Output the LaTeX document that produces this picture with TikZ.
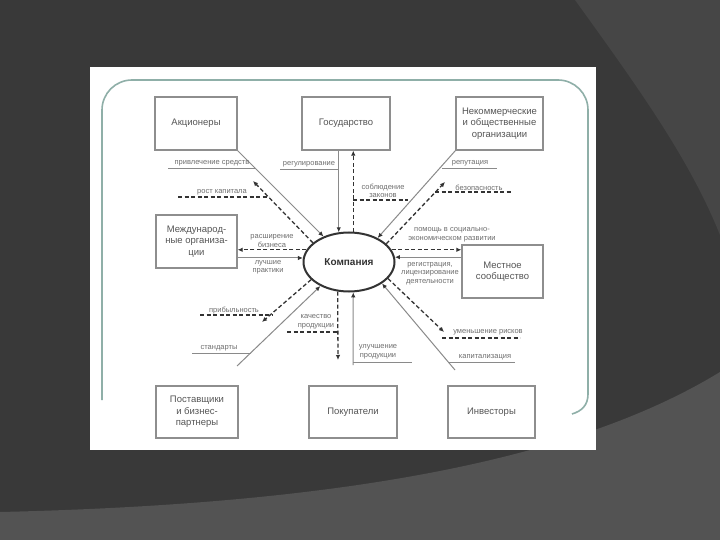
\documentclass[tikz,border=0pt]{standalone}
\usepackage{fontspec}
\setmainfont{Liberation Sans}
\usetikzlibrary{arrows.meta,shapes.geometric}
\definecolor{bgdark}{HTML}{393939}
\definecolor{bgband}{HTML}{464646}
\definecolor{bglow}{HTML}{535353}
\definecolor{framec}{HTML}{8FAFA8}
\definecolor{boxline}{HTML}{8E8E8E}
\definecolor{boxtext}{HTML}{555555}
\definecolor{labtext}{HTML}{6E6E6E}
\definecolor{dline}{HTML}{333333}
\definecolor{sline}{HTML}{8A8A8A}
\begin{document}
\begin{tikzpicture}[x=1pt,y=-1pt,
  party/.style={draw=boxline,line width=1.3pt,fill=white,minimum width=#1,minimum height=53pt,inner sep=1pt,align=center,text=boxtext,font=\fontsize{9.5}{11.5}\selectfont},
  lab/.style={font=\fontsize{7.5}{8.5}\selectfont,text=labtext,inner sep=0pt,align=center},
  sarr/.style={draw=sline,line width=1pt,-{Latex[length=5pt,width=4.5pt,color=dline]}},
  darr/.style={draw=dline,line width=1.3pt,dash pattern=on 4pt off 2.5pt,-{Latex[length=5pt,width=4.5pt]}},
  dul/.style={draw=dline,line width=1.3pt,dash pattern=on 4pt off 2.5pt},
  sul/.style={draw=sline,line width=0.9pt}]
\useasboundingbox (0,0) rectangle (720,540);
% slide background
\fill[bgdark] (0,0) rectangle (720,540);
\fill[bgband] (575,0) .. controls (640,90) and (690,160) .. (720,235) -- (720,0) -- cycle;
\fill[bglow] (0,512) .. controls (300,505) and (560,470) .. (720,372) -- (720,540) -- (0,540) -- cycle;
% white panel and frame
\fill[white] (90,67) rectangle (596,450);
\draw[framec,line width=1.6pt,rounded corners=30pt] (102,400) -- (102,80) -- (588,80) -- (588,395);
\draw[framec,line width=1.6pt] (588,394) .. controls (588,405) and (582,411) .. (572,414);

% centre
\node[ellipse,draw=dline,line width=2pt,minimum width=91pt,minimum height=59pt,inner sep=0pt,font=\fontsize{10}{12}\selectfont\bfseries,text=dline] (comp) at (349,262) {Компания};

% stakeholders
\node[party=82] (a1) at (196,123.5) {Акционеры};
\node[party=88] (a2) at (346,123.5) {Государство};
\node[party=87] (a3) at (499.5,123.5) {Некоммерческие\\и общественные\\организации};
\node[party=81] (a4) at (196.5,241.5) {Международ-\\ные организа-\\ции};
\node[party=81] (a5) at (502.5,271.5) {Местное\\сообщество};
\node[party=82,minimum height=52pt] (a6) at (197,412) {Поставщики\\и бизнес-\\партнеры};
\node[party=88,minimum height=52pt] (a7) at (353,412) {Покупатели};
\node[party=87,minimum height=52pt] (a8) at (491.5,412) {Инвесторы};

% free ends
\coordinate (t1) at (253,181);
\coordinate (t3) at (445,182);
\coordinate (s6) at (237,366);
\coordinate (t6) at (262,322);
\coordinate (t7) at (338,360);
\coordinate (s7) at (353,365);
\coordinate (s8) at (455,370);
\coordinate (t8) at (444,332);

% Акционеры
\draw[sarr] (a1.south east) -- (comp);
\draw[darr] (comp.152) -- (t1);
\draw[sul] (168,168) -- (255,168);
\draw[dul] (178,197) -- (269,197);
\node[lab] (l1) at (212,163.5) {привлечение средств};
\node[lab] (l2) at (222,192.5) {рост капитала};

% Государство
\draw[sarr] (comp.109 |- a2.south) -- (comp.109);
\draw[darr] (comp.82) -- (comp.82 |- a2.south);
\draw[sul] (280,169) -- (339,169);
\draw[dul] (353,200) -- (408,200);
\node[lab] (l3) at (309,164.5) {регулирование};
\node[lab] (l4) at (383,191) {соблюдение\\законов};

% НКО
\draw[sarr] (a3.south west) -- (comp.40);
\draw[darr] (comp.26) -- (t3);
\draw[sul] (442,168) -- (497,168);
\draw[dul] (435,192) -- (511,192);
\node[lab] (l5) at (470,163.5) {репутация};
\node[lab] (l6) at (479,187.5) {безопасность};

% Международные организации
\draw[darr] (comp.164) -- (comp.164 -| a4.east);
\draw[sarr] (comp.175 -| a4.east) -- (comp.175);
\node[lab] (l7) at (272,241) {расширение\\бизнеса};
\node[lab] (l8) at (268,267.5) {лучшие\\практики};

% Местное сообщество
\draw[darr] (comp.16) -- (comp.16 -| a5.west);
\draw[sarr] (comp.6 -| a5.west) -- (comp.6);
\node[lab] (l9) at (452,235) {помощь в социально-\\экономическом развитии};
\node[lab] (l10) at (430,273.5) {регистрация,\\лицензирование\\деятельности};

% Поставщики
\draw[sarr] (s6) -- (comp.220);
\draw[darr] (comp.205) -- (t6);
\draw[dul] (200,315) -- (272,315);
\draw[sul] (192,353) -- (251,353);
\node[lab] (l11) at (234,310.5) {прибыльность};
\node[lab] (l12) at (219,348.5) {стандарты};

% Покупатели
\draw[darr] (comp.249) -- (t7);
\draw[sarr] (s7) -- (comp.278);
\draw[dul] (287,332) -- (338,332);
\draw[sul] (353,362) -- (412,362);
\node[lab] (l13) at (316,322) {качество\\продукции};
\node[lab] (l14) at (378,352) {улучшение\\продукции};

% Инвесторы
\draw[sarr] (s8) -- (comp.327);
\draw[darr] (comp.337) -- (t8);
\draw[dul] (442,338) -- (520,338);
\draw[sul] (448,362) -- (515,362);
\node[lab] (l15) at (488,332.5) {уменьшение рисков};
\node[lab] (l16) at (485,357.5) {капитализация};
\end{tikzpicture}
\end{document}
